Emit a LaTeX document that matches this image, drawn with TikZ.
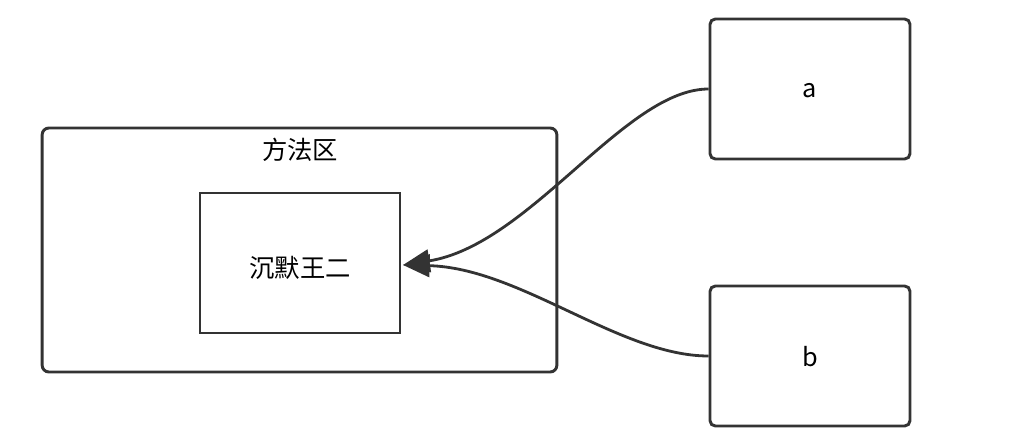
\documentclass[tikz,border=0pt]{standalone}
\usepackage{fontspec}
\setmainfont{Noto Sans CJK SC}
\usetikzlibrary{arrows.meta}
\definecolor{ink}{HTML}{333333}
\begin{document}
\begin{tikzpicture}[x=0.75pt,y=-0.75pt,
  txt/.style={font=\fontsize{19}{22}\selectfont},
  box/.style={draw=ink,line width=2.2pt,rounded corners=4pt,minimum width=150pt,minimum height=105pt,inner sep=0pt,txt},
  inbox/.style={draw=ink,line width=2.2pt,minimum width=150pt,minimum height=105pt,inner sep=0pt,txt},
  link/.style={draw=ink,line width=2.1pt,-{Triangle[length=20pt,width=17pt]}}]
\useasboundingbox (0,0) rectangle (1010,446);
\node[draw=ink,line width=2.2pt,rounded corners=5pt,minimum width=386pt,minimum height=183pt,inner sep=0pt] (zone) at (299.5,250) {};
\node[txt] (zlabel) at (300,150) {方法区};
\node[inbox] (w) at (300,263) {};
\node[txt] (wl) at (300,268) {沉默王二};
\node[box] (a) at (810,89) {};
\node[txt] (al) at (810,91) {a};
\node[box] (b) at (810,356) {};
\node[txt] (bl) at (810,357) {b};
\coordinate (tip) at (403,265);
\draw[link] (a.west) .. controls (625,89) and (530,245) .. (tip);
\draw[link] (b.west) .. controls (620,356) and (520,268) .. (tip);
\end{tikzpicture}
\end{document}
